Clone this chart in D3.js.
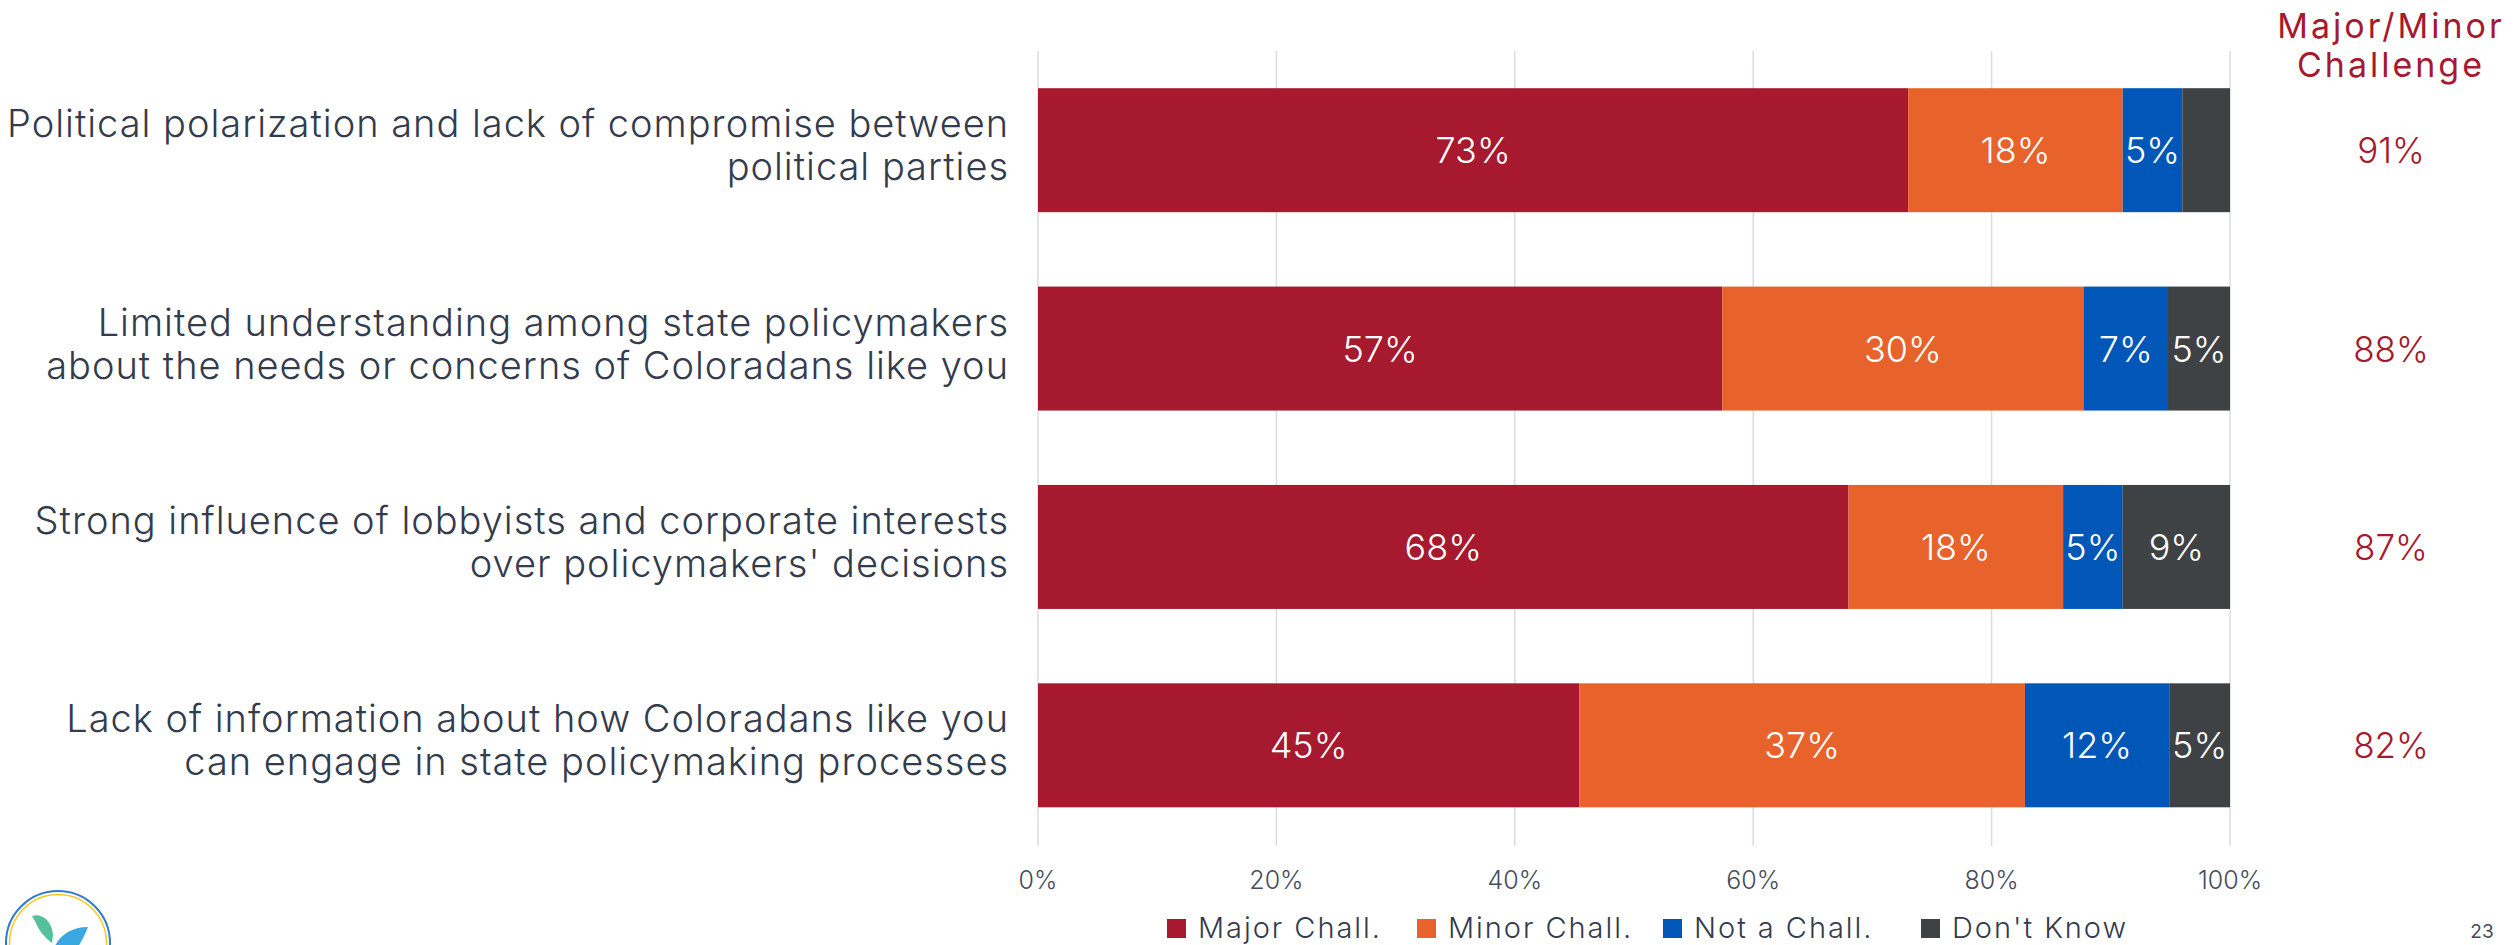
<!DOCTYPE html>
<html>
<head>
<meta charset="utf-8">
<script src="https://cdn.jsdelivr.net/npm/d3@7"></script>
<style>
  html, body { margin: 0; padding: 0; background: #ffffff; }
  svg { display: block; }
  text { font-family: Inter, "Open Sans", Lato, sans-serif; }
</style>
</head>
<body>
<svg id="chart" width="2519" height="945"></svg>
<script>
// ---------- data ----------
const categories = [
  ["Political polarization and lack of compromise between", "political parties"],
  ["Limited understanding among state policymakers", "about the needs or concerns of Coloradans like you"],
  ["Strong influence of lobbyists and corporate interests", "over policymakers' decisions"],
  ["Lack of information about how Coloradans like you", "can engage in state policymaking processes"]
];
const seriesNames = ["Major Chall.", "Minor Chall.", "Not a Chall.", "Don't Know"];
const majorChall = [73.0, 57.4, 68.0, 45.4];
const minorChall = [18.0, 30.3, 18.0, 37.4];
const notAChall  = [5.0, 7.1, 5.0, 12.1];
const dontKnow   = [4.0, 5.2, 9.0, 5.1];
const netChallenge = [91, 88, 87, 82];
const netHeader = ["Major/Minor", "Challenge"];
const xTicks = [0, 20, 40, 60, 80, 100];
const pageNumber = "23";

const colors = ["#A6192E", "#E8632B", "#0057B8", "#3F4245"];
const series = [majorChall, minorChall, notAChall, dontKnow];

// ---------- helpers ----------
// letter spacing so a text reaches the width measured on the reference
function fitSpacing(node, target) {
  const w = node.getComputedTextLength();
  const n = node.textContent.length;
  return Math.max(-1, Math.min(3, (target - w) / Math.max(1, n - 1)));
}

// ---------- layout ----------
const svg = d3.select("#chart");
const x = d3.scaleLinear().domain([0, 100]).range([1038, 2230]);
const y = d3.scaleBand().domain(d3.range(categories.length))
  .range([51, 844.5]).paddingInner(0.375).paddingOuter(0.1875);

// gridlines
svg.append("g").selectAll("line").data(xTicks).join("line")
  .attr("x1", d => x(d)).attr("x2", d => x(d))
  .attr("y1", 51).attr("y2", 846)
  .attr("stroke", "#D9DCE4").attr("stroke-width", 1.5);

// tick labels
svg.append("g").selectAll("text").data(xTicks).join("text")
  .attr("x", d => x(d)).attr("y", 889)
  .attr("text-anchor", "middle")
  .attr("font-size", 25).attr("font-weight", 300)
  .attr("fill", "#454C5C")
  .text(d => d + "%");

// stacked bars
const rows = categories.map((c, i) => {
  let acc = 0;
  return series.map((s, k) => {
    const seg = { i, k, x0: acc, x1: acc + s[i], v: s[i] };
    acc += s[i];
    return seg;
  });
}).flat();

const barG = svg.append("g");
barG.selectAll("rect").data(rows).join("rect")
  .attr("x", d => x(d.x0))
  .attr("width", d => x(d.x1) - x(d.x0))
  .attr("y", d => y(d.i))
  .attr("height", y.bandwidth())
  .attr("fill", d => colors[d.k]);

barG.selectAll("text").data(rows.filter(d => d.v >= 4.5)).join("text")
  .attr("x", d => x((d.x0 + d.x1) / 2))
  .attr("y", d => y(d.i) + y.bandwidth() / 2 + 13)
  .attr("text-anchor", "middle")
  .attr("font-size", 36).attr("font-weight", 300)
  .attr("fill", "#ffffff")
  .text(d => Math.round(d.v) + "%");

// category labels (one text, two lines each)
const labG = svg.append("g");
const probe = labG.append("text").attr("font-size", 38).attr("font-weight", 300)
  .text(categories[0][0]);
const catLS = fitSpacing(probe.node(), 1001);
probe.remove();
categories.forEach((lines, i) => {
  const cy = y(i) + y.bandwidth() / 2;
  const t = labG.append("text")
    .attr("text-anchor", "end")
    .attr("font-size", 38).attr("font-weight", 300)
    .attr("letter-spacing", catLS)
    .attr("fill", "#333B4C");
  lines.forEach((ln, j) => {
    t.append("tspan").attr("x", 1009).attr("y", cy - 13 + j * 43).text(ln);
  });
});

// net column
const netX = 2391;
const hdrProbe = svg.append("text").attr("font-size", 34).text(netHeader[0]);
const hdrLS = fitSpacing(hdrProbe.node(), 233);
hdrProbe.remove();
const hdr = svg.append("text")
  .attr("text-anchor", "middle")
  .attr("font-size", 34).attr("font-weight", 400)
  .attr("letter-spacing", hdrLS)
  .attr("fill", "#A6192E");
netHeader.forEach((h, j) => {
  hdr.append("tspan").attr("x", netX).attr("y", 38 + j * 39).text(h);
});

svg.append("g").selectAll("text").data(netChallenge).join("text")
  .attr("x", netX).attr("y", (d, i) => y(i) + y.bandwidth() / 2 + 13)
  .attr("text-anchor", "middle")
  .attr("font-size", 35).attr("font-weight", 300)
  .attr("fill", "#A6192E")
  .text(d => d + "%");

// legend
const legendX = [1167, 1417, 1663, 1921];
const lg = svg.append("g").selectAll("g").data(seriesNames).join("g")
  .attr("transform", (d, k) => `translate(${legendX[k]},919)`);
lg.append("rect").attr("width", 19).attr("height", 19)
  .attr("fill", (d, k) => colors[k]);
const lgText = lg.append("text").attr("x", 31).attr("y", 18.5)
  .attr("font-size", 29).attr("font-weight", 300)
  .attr("fill", "#333B4C")
  .text(d => d);
const lgLS = fitSpacing(lgText.node(), 182);
lgText.attr("letter-spacing", lgLS);

// page number
svg.append("text").attr("x", 2482).attr("y", 938)
  .attr("text-anchor", "middle").attr("font-size", 19)
  .attr("fill", "#444A55").text(pageNumber);

// logo (decorative, partially cut off at bottom-left)
const logo = svg.append("g").attr("transform", "translate(58,943)");
logo.append("circle").attr("r", 52).attr("fill", "#ffffff")
  .attr("stroke", "#2F7BCF").attr("stroke-width", 2);
logo.append("circle").attr("r", 48.5).attr("fill", "none")
  .attr("stroke", "#F7C81E").attr("stroke-width", 1.5);
logo.append("path")
  .attr("d", "M-26,-27 C-16,-30 -6,-22 -5,-8 L-6,0 C-14,-6 -20,-14 -22,-20 Z")
  .attr("fill", "#55C19C");
logo.append("path")
  .attr("d", "M-3,3 C2,-8 14,-16 30,-16 C26,-6 20,6 12,14 L-3,14 Z")
  .attr("fill", "#3AA7E0");
</script>
</body>
</html>
